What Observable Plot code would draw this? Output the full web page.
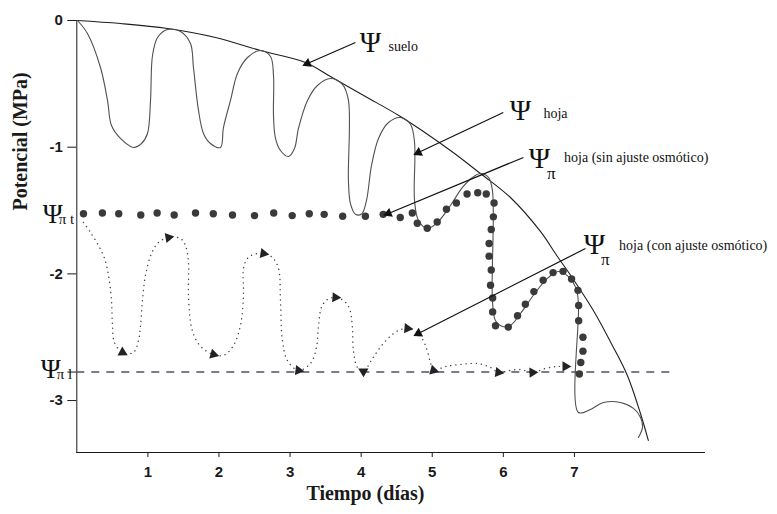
<!DOCTYPE html>
<html>
<head>
<meta charset="utf-8">
<script src="https://cdn.jsdelivr.net/npm/d3@7"></script>
<script src="https://cdn.jsdelivr.net/npm/@observablehq/plot@0.6"></script>
<style>
  html, body { margin: 0; padding: 0; background: #fff; }
  #chart svg { display: block; }
</style>
</head>
<body>
<div id="chart"></div>
<script>
// ---------- data (days, MPa) ----------
const xTicks = [1, 2, 3, 4, 5, 6, 7];
const yTicks = [0, -1, -2, -3];
const psiPiT = -1.53;   // Ψπ t level
const psiPiL = -2.775;  // Ψπ l level
const psiPiLEnd = 8.39;

// Ψ suelo
const soilDay = [0, 0.615, 1.276, 1.951, 2.584, 3.217, 3.568, 4.061, 4.553, 5.256, 5.678, 6.100, 6.522, 6.761, 6.986, 7.267, 7.534, 7.745, 7.928, 8.040];
const soilPot = [0, -0.024, -0.063, -0.134, -0.237, -0.331, -0.442, -0.600, -0.758, -1.026, -1.208, -1.397, -1.665, -1.863, -2.044, -2.289, -2.565, -2.802, -3.100, -3.315];

// Ψ hoja
const leafDay = [0.010, 0.150, 0.333, 0.432, 0.488, 0.615, 0.797, 0.910, 0.994, 1.037, 1.065, 1.136, 1.276, 1.459, 1.599, 1.641, 1.712, 1.782, 1.880, 2.021,
  2.063, 2.162, 2.260, 2.401, 2.584, 2.725, 2.767, 2.767, 2.795, 2.865, 2.978, 3.062, 3.118, 3.245, 3.385, 3.568, 3.737, 3.821, 3.821, 3.849,
  3.920, 4.010, 4.075, 4.146, 4.244, 4.385, 4.554, 4.695, 4.751, 4.751, 4.807, 4.933, 5.074, 5.256, 5.425, 5.566, 5.678, 5.791, 5.847, 5.847,
  5.889, 5.988, 6.100, 6.241, 6.452, 6.635, 6.776, 6.916, 7.029, 7.057, 7.057, 7.226, 7.409, 7.648, 7.831, 7.930, 7.958, 7.901];
const leafPot = [0.000, -0.103, -0.371, -0.631, -0.829, -0.931, -1.002, -0.971, -0.892, -0.631, -0.276, -0.134, -0.071, -0.087, -0.182, -0.371, -0.710, -0.892, -0.971, -1.002,
  -0.845, -0.631, -0.418, -0.292, -0.237, -0.284, -0.434, -0.750, -0.931, -1.026, -1.073, -1.010, -0.852, -0.631, -0.513, -0.458, -0.505, -0.631, -1.263, -1.444,
  -1.530, -1.525, -1.421, -1.144, -0.931, -0.805, -0.766, -0.821, -0.963, -1.421, -1.579, -1.642, -1.594, -1.460, -1.318, -1.239, -1.208, -1.239, -1.342, -2.210,
  -2.368, -2.415, -2.407, -2.313, -2.147, -2.028, -1.981, -2.021, -2.123, -2.249, -3.094, -3.070, -3.015, -3.015, -3.062, -3.133, -3.212, -3.291];

// Ψπ hoja (sin ajuste osmótico) — large dots
const sinDay = [0.094, 0.36, 0.59, 0.90, 1.13, 1.37, 1.67, 1.92, 2.19, 2.50, 2.77, 3.03, 3.27, 3.48, 3.74, 4.06, 4.31, 4.55, 4.72,
  4.79, 4.93, 5.07, 5.20, 5.34, 5.49, 5.64, 5.76, 5.87, 5.86, 5.83, 5.80, 5.80, 5.83, 5.82, 5.85, 5.85, 5.89,
  6.07, 6.20, 6.31, 6.43, 6.56, 6.70, 6.84, 6.96, 7.05, 7.06, 7.06, 7.12, 7.12, 7.09, 7.07];
const sinPot = [-1.525, -1.52, -1.525, -1.535, -1.52, -1.535, -1.52, -1.525, -1.535, -1.54, -1.52, -1.54, -1.525, -1.53, -1.545, -1.545, -1.53, -1.555, -1.52,
  -1.60, -1.64, -1.59, -1.49, -1.44, -1.37, -1.36, -1.37, -1.44, -1.55, -1.65, -1.76, -1.86, -1.97, -2.09, -2.19, -2.30, -2.41,
  -2.42, -2.33, -2.24, -2.14, -2.05, -1.99, -1.98, -2.04, -2.13, -2.25, -2.37, -2.50, -2.61, -2.70, -2.79];

// Ψπ hoja (con ajuste osmótico) — fine dotted path with arrowheads
const conDay = [0.094, 0.193, 0.305, 0.390, 0.446, 0.488, 0.502, 0.530, 0.643, 0.797, 0.868, 0.896, 0.924, 0.966, 1.051, 1.149, 1.290, 1.459, 1.529, 1.571,
  1.571, 1.614, 1.698, 1.810, 1.923, 2.063, 2.204, 2.302, 2.345, 2.345, 2.401, 2.485, 2.626, 2.752, 2.837, 2.865, 2.893, 2.963, 3.118, 3.287,
  3.371, 3.399, 3.441, 3.526, 3.638, 3.751, 3.835, 3.877, 3.891, 3.948, 4.032, 4.159, 4.314, 4.497, 4.651, 4.806, 4.905, 4.975, 5.017, 5.186,
  5.397, 5.636, 5.819, 5.931, 6.100, 6.241, 6.410, 6.592, 6.747, 6.874];
const conPot = [-1.594, -1.673, -1.776, -1.878, -2.013, -2.210, -2.407, -2.541, -2.620, -2.620, -2.526, -2.407, -2.210, -2.013, -1.839, -1.752, -1.713, -1.721, -1.776, -1.910,
  -2.170, -2.423, -2.541, -2.605, -2.636, -2.644, -2.565, -2.407, -2.170, -1.957, -1.878, -1.847, -1.839, -1.871, -1.957, -2.210, -2.526, -2.684, -2.762, -2.707,
  -2.581, -2.423, -2.265, -2.202, -2.186, -2.210, -2.273, -2.423, -2.605, -2.739, -2.770, -2.668, -2.549, -2.455, -2.431, -2.470, -2.565, -2.699, -2.762, -2.731,
  -2.715, -2.707, -2.739, -2.778, -2.762, -2.755, -2.778, -2.747, -2.731, -2.731];
const conArrowIdx = [8, 16, 24, 32, 38, 44, 50, 54, 58, 63, 66, 69];

// annotations
const psiX = [4.131, 6.240, 6.508, 7.281];
const psiY = [-0.174, -0.710, -1.089, -1.768];
const subX = [6.675, 7.435];
const subY = [-1.205, -1.885];
const descText = ["suelo", "hoja", "hoja (sin ajuste osmótico)", "hoja (con ajuste osmótico)"];
const descX = [4.384, 6.564, 6.855, 7.629];
const descY = [-0.237, -0.773, -1.113, -1.815];
const arrX1 = [3.92, 6.00, 6.283, 7.155];
const arrY1 = [-0.174, -0.726, -1.081, -1.800];
const arrX2 = [3.245, 4.805, 4.384, 4.805];
const arrY2 = [-0.339, -1.042, -1.523, -2.470];

const xTitle = "Tiempo (días)";
const yTitle = "Potencial (MPa)";

// ---------- layout ----------
const W = 777, H = 514;
const ML = 76.3, MR = 73, MT = 20, MB = 62;
const xDom = [0, 8.83], yDom = [-3.41, 0];
const kx = (W - ML - MR) / (xDom[1] - xDom[0]);
const ky = (H - MT - MB) / (yDom[1] - yDom[0]);
const angle = (x1, y1, x2, y2) => Math.atan2((x2 - x1) * kx, (y2 - y1) * ky) * 180 / Math.PI;

const zip = (xs, ys) => xs.map((x, i) => ({x, y: ys[i]}));
const soil = zip(soilDay, soilPot);
const leaf = zip(leafDay, leafPot);
const sin = zip(sinDay, sinPot);
const con = zip(conDay, conPot);
const conArrows = conArrowIdx.map(i => {
  const a = con[i - 1];
  const b = (i + 1 < con.length) ? con[i + 1] : con[i];
  return {x: con[i].x, y: con[i].y, r: angle(a.x, a.y, b.x, b.y)};
});
const arrows = arrX1.map((x1, i) => ({x1, y1: arrY1[i], x2: arrX2[i], y2: arrY2[i], r: angle(x1, arrY1[i], arrX2[i], arrY2[i])}));
const psis = psiX.map((x, i) => ({x, y: psiY[i]}));
const subs = subX.map((x, i) => ({x, y: subY[i]}));
const descs = descText.map((t, i) => ({t, x: descX[i], y: descY[i]}));

const serif = "Liberation Serif, Times New Roman, serif";

const chart = Plot.plot({
  width: W, height: H,
  marginLeft: ML, marginRight: MR, marginTop: MT, marginBottom: MB,
  style: {fontFamily: "Liberation Sans, Arial, sans-serif", fontSize: "15px", fontWeight: "bold", color: "#1a1a1a", background: "#fff"},
  x: {domain: xDom, ticks: xTicks, tickSize: 5, tickPadding: 9, line: true, label: null, tickFormat: d => String(d)},
  y: {domain: yDom, ticks: [...yTicks, psiPiL], tickSize: 9, tickPadding: 5, line: true, label: null,
      tickFormat: d => d === psiPiL ? "" : String(d)},
  marks: [
    // Ψπ l dashed level
    Plot.ruleY([psiPiL], {x1: 0, x2: psiPiLEnd, stroke: "#55506a", strokeWidth: 1.4, strokeDasharray: "8,7"}),
    // soil
    Plot.line(soil, {x: "x", y: "y", curve: "catmull-rom", stroke: "#1e1e1e", strokeWidth: 1.1}),
    // leaf
    Plot.line(leaf, {x: "x", y: "y", curve: "catmull-rom", stroke: "#505050", strokeWidth: 1.1}),
    // con ajuste dotted path
    Plot.line(con, {x: "x", y: "y", curve: "catmull-rom", stroke: "#444", strokeWidth: 1.4, strokeDasharray: "0.1,5", strokeLinecap: "round"}),
    Plot.dot(conArrows, {x: "x", y: "y", symbol: "triangle", r: 3.8, fill: "#222", stroke: "none", rotate: "r"}),
    // sin ajuste big dots
    Plot.dot(sin, {x: "x", y: "y", r: 3.7, fill: "#3a3a3a", stroke: "none"}),
    // annotation arrows
    Plot.link(arrows, {x1: "x1", y1: "y1", x2: "x2", y2: "y2", stroke: "#111", strokeWidth: 1.2}),
    Plot.dot(arrows, {x: "x2", y: "y2", symbol: "triangle", r: 3.6, fill: "#111", stroke: "none", rotate: "r"}),
    // annotation labels
    Plot.text(psis, {x: "x", y: "y", text: () => "Ψ", fontFamily: serif, fontSize: 29, fontWeight: "normal", fill: "#111", lineAnchor: "middle"}),
    Plot.text(subs, {x: "x", y: "y", text: () => "π", fontFamily: serif, fontSize: 17, fontWeight: "normal", fill: "#111", lineAnchor: "middle"}),
    Plot.text(descs, {x: "x", y: "y", text: "t", fontFamily: serif, fontSize: 14, fontWeight: "normal", fill: "#111", textAnchor: "start", lineAnchor: "bottom"}),
    // axis Ψπ labels
    Plot.text([psiPiT], {y: d => d, frameAnchor: "left", dx: -34, text: () => "Ψ", fontFamily: serif, fontSize: 27, fontWeight: "normal", fill: "#111", lineAnchor: "middle"}),
    Plot.text([psiPiT], {y: d => d, frameAnchor: "left", dx: -18, dy: 10, text: () => "π t", fontFamily: serif, fontSize: 15, fontWeight: "normal", fill: "#111", textAnchor: "start", lineAnchor: "bottom"}),
    Plot.text([psiPiL], {y: d => d, frameAnchor: "left", dx: -36, dy: -3, text: () => "Ψ", fontFamily: serif, fontSize: 27, fontWeight: "normal", fill: "#111", lineAnchor: "middle"}),
    Plot.text([psiPiL], {y: d => d, frameAnchor: "left", dx: -20, dy: 7, text: () => "π l", fontFamily: serif, fontSize: 15, fontWeight: "normal", fill: "#111", textAnchor: "start", lineAnchor: "bottom"}),
    // axis titles
    Plot.text([xTitle], {x: () => 4.06, frameAnchor: "bottom", dy: 41, text: d => d, fontFamily: serif, fontSize: 20, fontWeight: "bold", fill: "#1a1a1a", lineAnchor: "middle"}),
    Plot.text([yTitle], {y: () => -1.50, frameAnchor: "left", dx: -56, rotate: -90, text: d => d, fontFamily: serif, fontSize: 20, fontWeight: "bold", fill: "#1a1a1a", lineAnchor: "middle"})
  ]
});
document.getElementById("chart").appendChild(chart);
</script>
</body>
</html>
